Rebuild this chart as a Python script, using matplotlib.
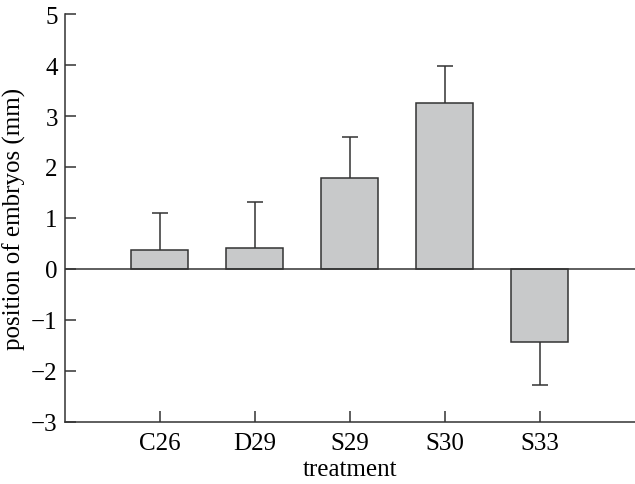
import matplotlib

matplotlib.use("Agg")
import matplotlib.pyplot as plt
import numpy as np

treatments = ["C26", "D29", "S29", "S30", "S33"]
means = [0.37, 0.41, 1.78, 3.25, -1.43]
errors = [0.73, 0.90, 0.81, 0.73, 0.84]

plt.rcParams["font.family"] = ["Liberation Serif", "DejaVu Serif"]
plt.rcParams["font.size"] = 18

fig = plt.figure(figsize=(6.35, 4.85), dpi=100)
ax = fig.add_axes([0.102, 0.128, 0.898, 0.841])

x = np.arange(len(treatments))
m = np.array(means)
e = np.array(errors)
# error bars only drawn away from zero
lower = np.where(m < 0, e, 0)
upper = np.where(m >= 0, e, 0)
ends = np.where(m >= 0, m + e, m - e)

ax.bar(x, m, width=0.6, color="#c8c9ca", edgecolor="#333333", linewidth=1.1, zorder=2)
ax.errorbar(x, m, yerr=[lower, upper], fmt="none", ecolor="#333333",
            elinewidth=1.1, capsize=0, zorder=3)
ax.plot(x, ends, linestyle="none", marker="_", markersize=11,
        markeredgewidth=1.1, color="#333333", zorder=3)
ax.axhline(0, color="#333333", linewidth=1.1, zorder=4)

ax.set_xlim(-1, 5)
ax.set_ylim(-3, 5)
ax.set_xticks(x)
ax.set_xticklabels(treatments)
ax.set_yticks(range(-3, 6))
ax.set_yticklabels([str(v).replace("-", "\u2212") for v in range(-3, 6)])

for s in ["top", "right"]:
    ax.spines[s].set_visible(False)
for s in ["left", "bottom"]:
    ax.spines[s].set_color("#333333")
    ax.spines[s].set_linewidth(1.1)

ax.tick_params(direction="in", length=8, width=1.1, color="#333333", pad=5)
ax.tick_params(axis="x", pad=7)
ax.set_xlabel("treatment", labelpad=3)
ax.set_ylabel("position of embryos (mm)", labelpad=4)

fig.savefig("out.png", dpi=100)
